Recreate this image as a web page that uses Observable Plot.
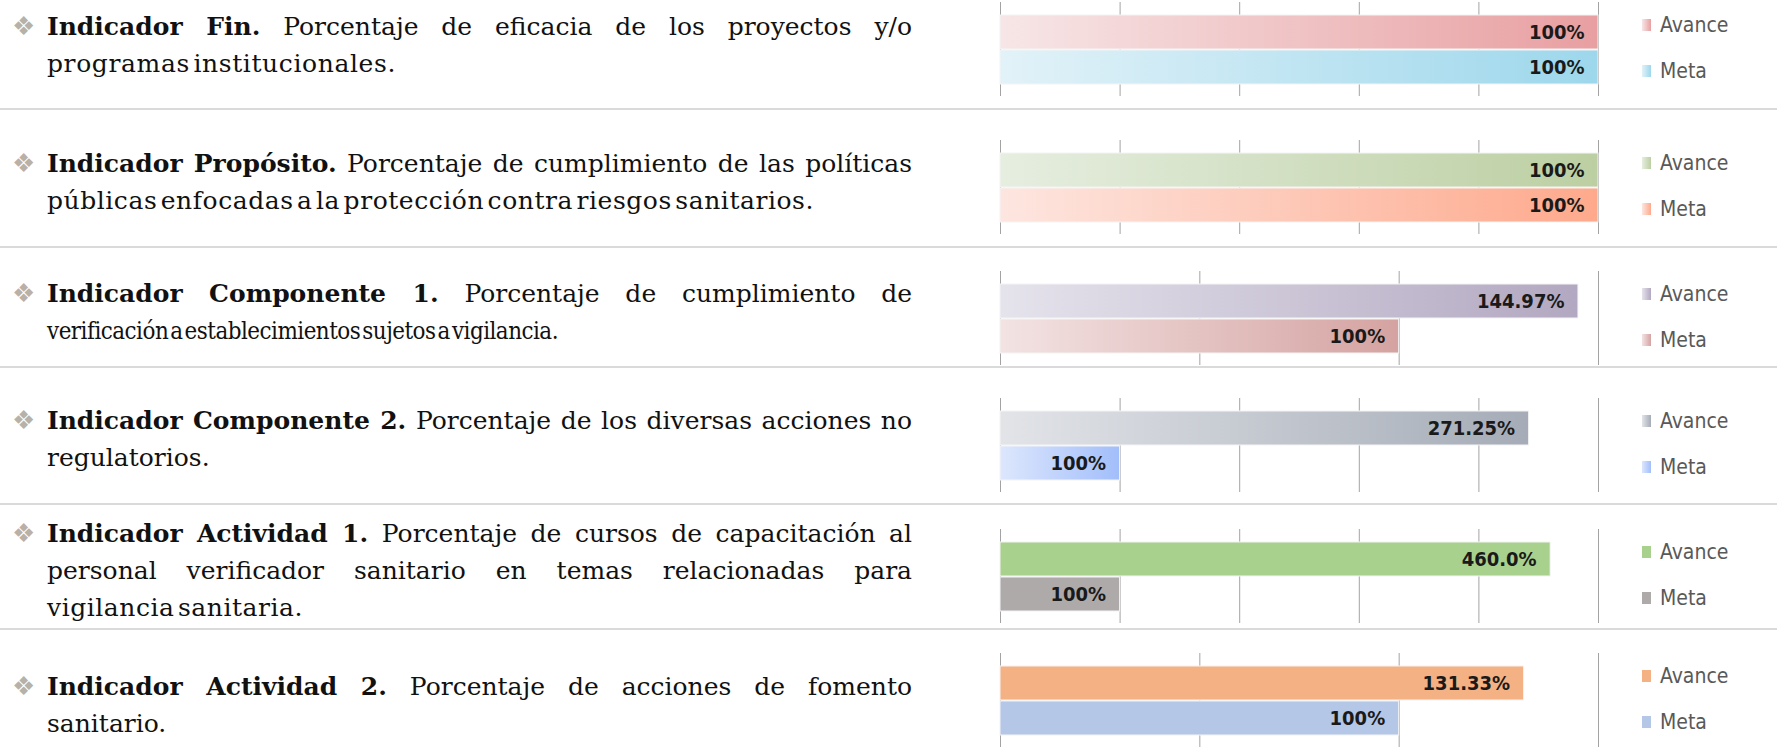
<!DOCTYPE html>
<html>
<head>
<meta charset="utf-8">
<script src="https://cdn.jsdelivr.net/npm/d3@7"></script>
<script src="https://cdn.jsdelivr.net/npm/@observablehq/plot@0.6"></script>
<style>
  html, body { margin: 0; padding: 0; background: #fff; }
  #page { position: relative; width: 1777px; height: 749px; overflow: hidden; background: #fff; }
  .sep { position: absolute; left: 0; width: 1777px; height: 2px; background: #dadada; }
  .txt { position: absolute; left: 47px; width: 865px; font-family: "DejaVu Serif", serif; font-size: 25px; line-height: 37px; color: #111; }
  .line { white-space: nowrap; display: block; }
  .line span.w { display: inline-block; white-space: nowrap; transform-origin: 0 50%; }
  .bullet { position: absolute; left: 12px; font-family: "DejaVu Sans", sans-serif; font-size: 26px; color: #b8b1a8; line-height: 37px; }
  .chart { position: absolute; left: 990px; }
  .legend { position: absolute; left: 1642px; font-family: "DejaVu Sans Condensed", sans-serif; font-size: 21px; color: #595959; }
  .item { position: absolute; left: 0; display: flex; align-items: center; white-space: nowrap; height: 24px; }
  .sw { width: 9px; height: 12px; margin-right: 9px; }
</style>
</head>
<body>
<div id="page"></div>
<script>
// ---- data ----
const series = ["Avance", "Meta"];
const boldLabels = ["Indicador Fin.", "Indicador Propósito.", "Indicador Componente 1.", "Indicador Componente 2.", "Indicador Actividad 1.", "Indicador Actividad 2."];
const textLines = [
  [" Porcentaje de eficacia de los proyectos y/o", "programas institucionales."],
  [" Porcentaje de cumplimiento de las políticas", "públicas enfocadas a la protección contra riesgos sanitarios."],
  [" Porcentaje de cumplimiento de", "verificación a establecimientos sujetos a vigilancia."],
  [" Porcentaje de los diversas acciones no", "regulatorios."],
  [" Porcentaje de cursos de capacitación al", "personal verificador sanitario en temas relacionadas para", "vigilancia sanitaria."],
  [" Porcentaje de acciones de fomento", "sanitario."]
];
const avanceValues = [100, 100, 144.97, 442, 460, 131.33];
const metaValues = [100, 100, 100, 100, 100, 100];
const avanceLabels = ["100%", "100%", "144.97%", "271.25%", "460.0%", "131.33%"];
const metaLabels = ["100%", "100%", "100%", "100%", "100%", "100%"];
const axisMax = [100, 100, 150, 500, 500, 150];
const gridTicks = [
  [0, 20, 40, 60, 80, 100],
  [0, 20, 40, 60, 80, 100],
  [0, 50, 100, 150],
  [0, 100, 200, 300, 400, 500],
  [0, 100, 200, 300, 400, 500],
  [0, 50, 100, 150]
];
const avanceColors = [["#f7e6e7", "#e89fa1"], ["#e6eee0", "#bccfa2"], ["#e5e3ec", "#b2a8c1"], ["#e2e4e8", "#a5acb7"], ["#a9d18e", "#a9d18e"], ["#f4b183", "#f4b183"]];
const metaColors = [["#e2f2f8", "#9dd7ec"], ["#fde6e0", "#fea98c"], ["#f3e3e3", "#d4a3a1"], ["#dde7fd", "#a2befa"], ["#aeaaaa", "#aeaaaa"], ["#b4c7e7", "#b4c7e7"]];

// ---- layout (page pixels) ----
const chartTop = [2, 140, 271, 398, 529, 653];
const textTop = [7.5, 144.5, 274.5, 401.5, 514.5, 667.5];
const sepTop = [108, 246, 366, 503, 628];
const lastLineWidth = [349, 767, 488, null, 256, null];
const fullWidth = 865;

const page = document.getElementById("page");

sepTop.forEach(t => {
  const d = document.createElement("div");
  d.className = "sep"; d.style.top = t + "px";
  page.appendChild(d);
});

function gradDefs(id, c) {
  return () => {
    const defs = d3.create("svg:defs");
    const g = defs.append("linearGradient").attr("id", id)
      .attr("x1", "0").attr("x2", "1").attr("y1", "0").attr("y2", "0");
    g.append("stop").attr("offset", "0%").attr("stop-color", c[0]);
    g.append("stop").attr("offset", "100%").attr("stop-color", c[1]);
    return defs.node();
  };
}

const lineEls = [];

boldLabels.forEach((b, i) => {
  // text block
  const bullet = document.createElement("div");
  bullet.className = "bullet"; bullet.textContent = "❖";
  bullet.style.top = textTop[i] + "px";
  page.appendChild(bullet);

  const txt = document.createElement("div");
  txt.className = "txt"; txt.style.top = textTop[i] + "px";
  const lines = textLines[i];
  lines.forEach((ln, j) => {
    const line = document.createElement("div");
    line.className = "line";
    const inner = document.createElement("span");
    inner.className = "w";
    if (j === 0) {
      const bs = document.createElement("b");
      bs.textContent = b;
      inner.appendChild(bs);
    }
    inner.appendChild(document.createTextNode(ln));
    line.appendChild(inner);
    txt.appendChild(line);
    const last = j === lines.length - 1;
    const target = last ? lastLineWidth[i] : fullWidth;
    lineEls.push({el: inner, target, last});
  });
  page.appendChild(txt);

  // chart
  const data = [
    {serie: "Avance", value: avanceValues[i], label: avanceLabels[i]},
    {serie: "Meta", value: metaValues[i], label: metaLabels[i]}
  ];
  const idA = "ga" + i, idM = "gm" + i;
  const chart = Plot.plot({
    width: 618,
    height: 94,
    marginLeft: 10,
    marginRight: 10,
    marginTop: 0,
    marginBottom: 0,
    style: {background: "transparent", overflow: "visible"},
    x: {domain: [0, axisMax[i]], axis: null},
    y: {domain: series, axis: null, paddingInner: 0.03, paddingOuter: 0.34},
    marks: [
      gradDefs(idA, avanceColors[i]),
      gradDefs(idM, metaColors[i]),
      Plot.ruleX(gridTicks[i], {stroke: "#a3a3a3", strokeWidth: 1}),
      Plot.barX(data.filter(d => d.serie === "Avance"), {x: "value", y: "serie", fill: `url(#${idA})`, stroke: "#f4f4f4", strokeWidth: 1}),
      Plot.barX(data.filter(d => d.serie === "Meta"), {x: "value", y: "serie", fill: `url(#${idM})`, stroke: "#f4f4f4", strokeWidth: 1}),
      Plot.text(data, {x: "value", y: "serie", text: "label", textAnchor: "end", dx: -14,
        fontSize: 20, fontWeight: "bold", fill: "#1a1a1a",
        fontFamily: "'DejaVu Sans Condensed', sans-serif"})
    ]
  });
  const holder = document.createElement("div");
  holder.className = "chart"; holder.style.top = chartTop[i] + "px";
  holder.appendChild(chart);
  page.appendChild(holder);

  // legend
  const leg = document.createElement("div");
  leg.className = "legend"; leg.style.top = chartTop[i] + "px";
  [["Avance", avanceColors[i], 23], ["Meta", metaColors[i], 69]].forEach(([name, c, cy]) => {
    const it = document.createElement("div");
    it.className = "item"; it.style.top = (cy - 12) + "px";
    const sw = document.createElement("div");
    sw.className = "sw"; sw.style.background = `linear-gradient(to right, ${c[0]}, ${c[1]})`;
    const lab = document.createElement("span");
    lab.textContent = name;
    it.appendChild(sw); it.appendChild(lab);
    leg.appendChild(it);
  });
  page.appendChild(leg);
});

function justify() {
  lineEls.forEach(({el, target, last}) => {
    if (target == null) return;
    el.style.wordSpacing = "0px";
    el.style.letterSpacing = "0px";
    el.style.transform = "none";
    const n = (el.textContent.trim().match(/ /g) || []).length;
    if (!last) {
      if (n === 0) return;
      const w = el.getBoundingClientRect().width;
      el.style.wordSpacing = ((target - w) / n) + "px";
      return;
    }
    // last lines: tight word spacing, then letter spacing, then slight horizontal scale
    el.style.wordSpacing = "-5px";
    let w = el.getBoundingClientRect().width;
    const chars = el.textContent.length;
    let ls = (target - w) / chars;
    ls = Math.max(-0.6, Math.min(1.2, ls));
    el.style.letterSpacing = ls + "px";
    w = el.getBoundingClientRect().width;
    let s = target / w;
    s = Math.max(0.86, Math.min(1.08, s));
    el.style.transform = `scaleX(${s})`;
  });
}
justify();
if (document.fonts && document.fonts.ready) document.fonts.ready.then(justify);
</script>
</body>
</html>
